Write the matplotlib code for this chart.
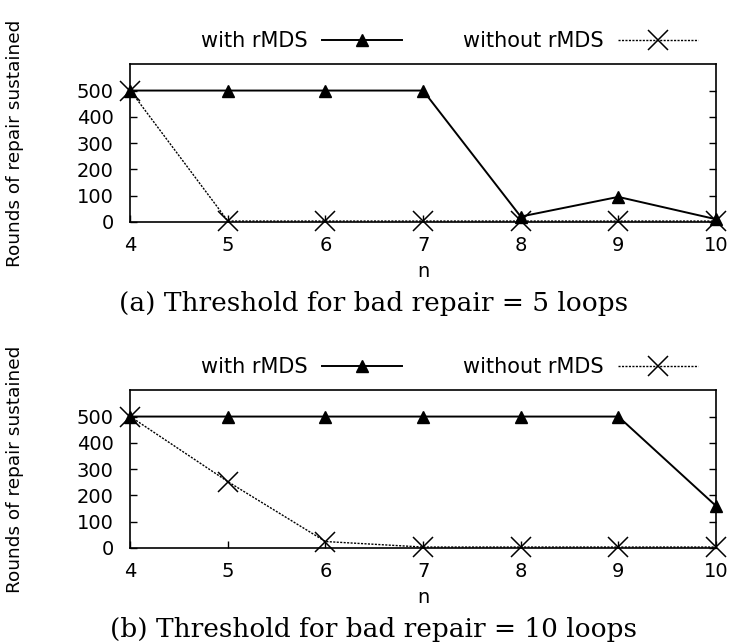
import matplotlib as mpl
mpl.use("Agg")
mpl.rcParams.update({
    "font.family": "sans-serif",
    "font.sans-serif": ["DejaVu Sans"],
    "axes.linewidth": 1.2,
})
import matplotlib.pyplot as plt

n = [4, 5, 6, 7, 8, 9, 10]
with_a = [500, 500, 500, 500, 20, 95, 10]
without_a = [500, 3, 3, 3, 3, 3, 3]
with_b = [500, 500, 500, 500, 500, 500, 160]
without_b = [500, 252, 24, 3, 3, 3, 3]
yticks = [0, 100, 200, 300, 400, 500]
captions = ["(a) Threshold for bad repair = 5 loops",
            "(b) Threshold for bad repair = 10 loops"]

FS = 14
fig = plt.figure(figsize=(7.32, 6.43), dpi=100)
ax_a = fig.add_axes([0.178, 0.655, 0.800, 0.245])
ax_b = fig.add_axes([0.178, 0.148, 0.800, 0.245])

for ax, w, wo, cap in [(ax_a, with_a, without_a, captions[0]),
                       (ax_b, with_b, without_b, captions[1])]:
    ax.plot(n, w, "-^", color="black", lw=1.4, ms=9, label="with rMDS", clip_on=False, zorder=3)
    ax.plot(n, wo, color="black", ls=(0, (1.5, 1)), lw=1.0, marker="x", ms=15, mew=1.1,
            label="without rMDS", clip_on=False, zorder=3)
    ax.set_xlim(4, 10)
    ax.set_ylim(0, 600)
    ax.set_xticks(n)
    ax.set_yticks(yticks)
    ax.tick_params(direction="in", length=5, width=1.0, labelsize=FS, right=True)
    ax.tick_params(axis="y", pad=12)
    ax.tick_params(axis="x", pad=10)
    ax.set_xlabel("n", fontsize=FS, labelpad=5)
    ax.set_ylabel("Rounds of repair sustained", fontsize=13.3)
    ax.yaxis.set_label_coords(-0.182, 0.5)
    ax.legend(loc="lower center", bbox_to_anchor=(0.545, 1.03), ncol=2, frameon=False,
              markerfirst=False, fontsize=15, handlelength=3.85, columnspacing=2.9,
              handletextpad=0.7, borderaxespad=0)
    ax.text(0.415, -0.52, cap, transform=ax.transAxes, ha="center", va="center",
            fontsize=19, family="DejaVu Serif")

fig.savefig("out.png", dpi=100)
